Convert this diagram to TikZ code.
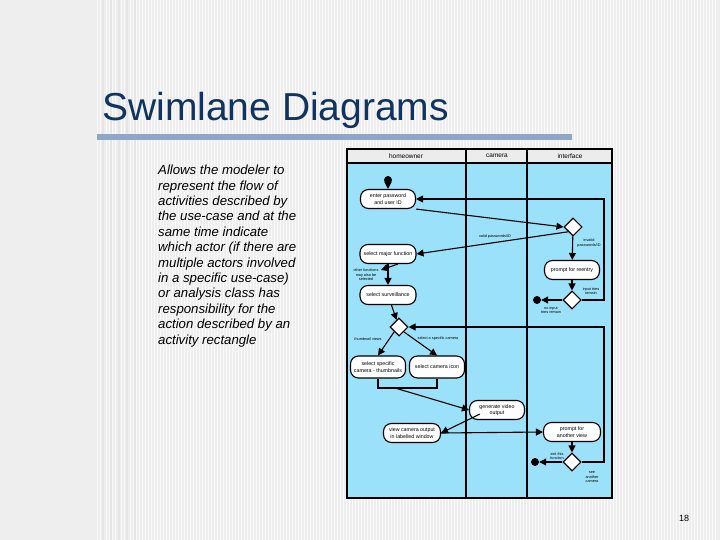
\documentclass[tikz,border=0pt]{standalone}
\usepackage{fontspec}
\setmainfont{Liberation Sans}
\usetikzlibrary{shapes.geometric,arrows.meta}
\definecolor{bg}{HTML}{EEEEEE}
\definecolor{lane}{HTML}{9BE1F9}
\definecolor{navy}{HTML}{10345F}
\definecolor{barc}{HTML}{8FA7C4}
\begin{document}
\begin{tikzpicture}[x=1pt,y=-1pt,
  act/.style={draw,line width=1.1pt,fill=white,rounded corners=8pt,minimum height=19pt,align=center,font=\fontsize{5.3}{6.3}\selectfont,inner sep=1pt},
  dec/.style={draw,line width=1.1pt,fill=white,diamond,minimum width=18pt,minimum height=18pt,inner sep=0pt},
  dot/.style={circle,fill=black,minimum size=8pt,inner sep=0pt},
  lbl/.style={font=\fontsize{3.8}{4.5}\selectfont,align=center,inner sep=0pt},
  arr/.style={line width=1.1pt,-{Triangle[length=7pt,width=7pt]}}]
\useasboundingbox (0,0) rectangle (720,540);
\fill[bg] (0,0) rectangle (720,540);
\foreach \x in {97,100,...,715} \draw[white,line width=0.8pt,opacity=0.7] (\x,0) -- (\x,540);
\foreach \x/\w in {102/2,110/2,118/2,126/2,134/2} \fill[gray!20] (\x,0) rectangle (\x+\w,540);
\node[anchor=west,text=navy,font=\fontsize{39}{41}\selectfont,inner sep=0] (title) at (102,110) {Swimlane Diagrams};
\fill[barc] (97,134) rectangle (572,140);
\node[anchor=north west,align=left,font=\fontsize{13.2}{15.4}\selectfont\itshape,inner sep=0] (body) at (158,165)
 {Allows the modeler to\\represent the flow of\\activities described by\\the use-case and at the\\same time indicate\\which actor (if there are\\multiple actors involved\\in a specific use-case)\\or analysis class has\\responsibility for the\\action described by an\\activity rectangle};
\node[font=\fontsize{9}{10}\selectfont] (pg) at (684,518) {18};
% diagram frame
\fill[lane] (347,149) rectangle (612,498);
\fill[gray!15] (347,149) rectangle (612,163);
\draw[line width=1.2pt] (347,149) rectangle (612,498);
\draw[line width=1.2pt] (347,163) -- (612,163);
\draw[line width=1.2pt] (466,149) -- (466,498);
\draw[line width=1.2pt] (527,149) -- (527,498);
\node[font=\fontsize{6.5}{7}\selectfont] (h1) at (406,156) {homeowner};
\node[font=\fontsize{6.5}{7}\selectfont] (h2) at (497,156) {camera};
\node[font=\fontsize{6.5}{7}\selectfont] (h3) at (570,156) {interface};
% nodes
\node[dot] (s) at (388,180) {};
\node[act,minimum width=55pt] (pw) at (388,199) {enter password\\and user ID};
\node[dec] (d1) at (573,227) {};
\node[act,minimum width=56pt] (mf) at (388,254) {select major function};
\node[act,minimum width=55pt] (re) at (572,270) {prompt for reentry};
\node[dec] (d2) at (572,300) {};
\node[dot] (e1) at (537,300) {};
\node[act,minimum width=56pt] (sv) at (388,295) {select surveillance};
\node[dec] (d3) at (399,327) {};
\node[act,minimum width=55pt,minimum height=22pt] (st) at (378,367) {select specific\\camera - thumbnails};
\node[act,minimum width=55pt,minimum height=22pt] (sc) at (437,367) {select camera icon};
\node[act,minimum width=55pt] (gv) at (497,410) {generate video\\output};
\node[act,minimum width=57pt] (vc) at (412,433) {view camera output\\in labelled window};
\node[act,minimum width=57pt] (pa) at (572,432) {prompt for\\another view};
\node[dec] (d4) at (572,462) {};
\node[dot] (e2) at (535,462) {};
\coordinate (of) at (381,270);
\coordinate (ofs) at (398,264);
\coordinate (j1) at (378,388);
\coordinate (j2) at (437,388);
\coordinate (jm) at (395,388);
\coordinate (gvs) at (480,414);
% labels
\node[lbl] (l1) at (495,237) {valid passwords/ID};
\node[lbl] (l2) at (589,243) {invalid\\passwords/ID};
\node[lbl] (l3) at (591,291) {input tries\\remain};
\node[lbl] (l4) at (551,310) {no input\\tries remain};
\node[lbl] (l5) at (366,275) {other functions\\may also be\\selected};
\node[lbl] (l6) at (368,339) {thumbnail views};
\node[lbl] (l7) at (438,339) {select a specific camera};
\node[lbl] (l8) at (557,456) {exit this\\function};
\node[lbl] (l9) at (592,477) {see\\another\\camera};
% connectors
\draw[arr] (s) -- (pw);
\draw[arr] (pw.south east) -- (d1.west);
\draw[arr] (d1.south west) -- (mf.east);
\draw[arr] (d1) -- (re);
\draw[arr] (re) -- (d2);
\draw[arr] (d2) -- (e1);
\draw[arr] (d2.east) -| (604,199) -- (pw.east);
\draw[arr] (ofs) -- (of);
\draw[arr] (mf) -- (sv);
\draw[arr] (sv) -- (d3);
\draw[arr] (d3.south west) -- (st.north);
\draw[arr] (d3.south east) -- (sc.north);
\draw[line width=1.1pt] (st.south) -- (j1) -- (j2) -- (sc.south);
\draw[arr] (jm) -- (gv.west);
\draw[arr] (gvs) -- (vc.east);
\draw[arr] (vc.east) -- (pa.west);
\draw[arr] (pa) -- (d4);
\draw[arr] (d4) -- (e2);
\draw[arr] (d4.east) -| (604,327) -- (d3.east);
\end{tikzpicture}
\end{document}
